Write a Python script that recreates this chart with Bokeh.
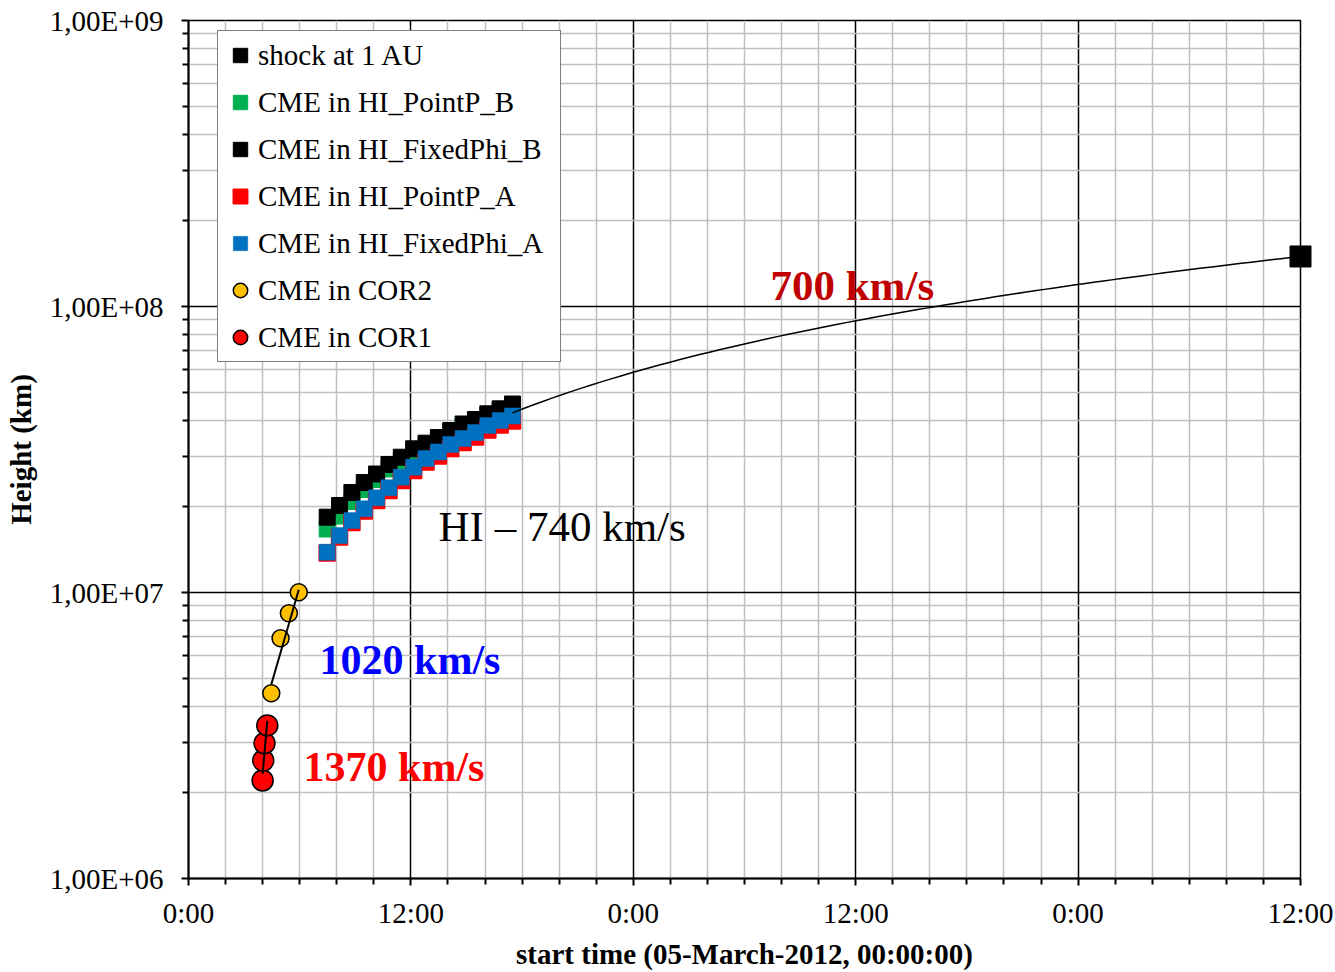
from bokeh.plotting import figure
from bokeh.models import Range1d, FixedTicker, Legend, LegendItem
from bokeh.embed import file_html
from bokeh.resources import INLINE
from bokeh.core.properties import value

FONT = "Liberation Serif"
KM_PER_H = 3600.0  # km/s -> km/h


def hours(hhmm):
    """'HH:MM' (hours may exceed 24) -> hours after 05-March-2012 00:00."""
    h, m = hhmm.split(":")
    return int(h) + int(m) / 60.0


# ---- measurements (time after 05-March-2012 00:00, height in km) ----
shock_time = ["60:00"]
shock_km = [1.496e8]

hi_time = ["07:29", "08:09", "08:49", "09:29", "10:09", "10:49", "11:29", "12:09",
           "12:49", "13:29", "14:09", "14:49", "15:29", "16:09", "16:49", "17:29"]
hi_pointp_b_km = [1.667e7, 1.851e7, 2.081e7, 2.292e7, 2.484e7, 2.703e7, 2.883e7, 3.099e7,
                  3.252e7, 3.400e7, 3.611e7, 3.805e7, 3.946e7, 4.141e7, 4.311e7, 4.488e7]
hi_fixedphi_b_km = [1.834e7, 2.015e7, 2.237e7, 2.424e7, 2.596e7, 2.803e7, 2.972e7, 3.180e7,
                    3.327e7, 3.483e7, 3.684e7, 3.883e7, 4.026e7, 4.215e7, 4.388e7, 4.561e7]
hi_pointp_a_km = [1.374e7, 1.564e7, 1.757e7, 1.928e7, 2.098e7, 2.273e7, 2.464e7, 2.671e7,
                  2.860e7, 3.002e7, 3.188e7, 3.346e7, 3.497e7, 3.700e7, 3.852e7, 3.978e7]
hi_fixedphi_a_km = [1.383e7, 1.582e7, 1.785e7, 1.962e7, 2.143e7, 2.324e7, 2.531e7, 2.743e7,
                    2.941e7, 3.099e7, 3.293e7, 3.455e7, 3.625e7, 3.836e7, 3.994e7, 4.141e7]

cor2_time = ["04:28", "04:58", "05:25", "05:57"]
cor2_km = [4.445e6, 6.92e6, 8.465e6, 1.002e7]

cor1_time = ["04:00", "04:02", "04:06", "04:15"]
cor1_km = [2.202e6, 2.585e6, 2.972e6, 3.43e6]

# constant-speed fits (km/s)
cor1_speed = 1370
cor2_speed = 1020
hi_speed = 740
ip_speed = 700

x_major = [0, 12, 24, 36, 48, 60]
x_labels = ["0:00", "12:00", "0:00", "12:00", "0:00", "12:00"]
y_major = [1e6, 1e7, 1e8, 1e9]
y_labels = ["1,00E+06", "1,00E+07", "1,00E+08", "1,00E+09"]

# ---- derived values ----
t_shock = [hours(s) for s in shock_time]
t_hi = [hours(s) for s in hi_time]
t_cor2 = [hours(s) for s in cor2_time]
t_cor1 = [hours(s) for s in cor1_time]


def speed_fit(ts, hs, speed):
    """Straight line of the given speed through the centroid of the points."""
    tm = sum(ts) / len(ts)
    hm = sum(hs) / len(hs)
    tt = [min(ts), max(ts)]
    return tt, [hm + speed * KM_PER_H * (t - tm) for t in tt]


cor1_fit_t, cor1_fit_h = speed_fit(t_cor1, cor1_km, cor1_speed)
cor2_fit_t, cor2_fit_h = speed_fit(t_cor2, cor2_km, cor2_speed)

# 700 km/s propagation ending at the 1 AU arrival
n_seg = 80
t0, t1 = t_hi[-1], t_shock[0]
ip_t = [t0 + (t1 - t0) * i / n_seg for i in range(n_seg + 1)]
ip_h = [shock_km[0] - ip_speed * KM_PER_H * (t1 - t) for t in ip_t]

# ---- figure ----
p = figure(width=1335, height=972, output_backend="svg", toolbar_location=None,
           y_axis_type="log", x_range=Range1d(0, 60), y_range=Range1d(1e6, 1e9),
           min_border_left=188, min_border_right=35, min_border_top=20,
           min_border_bottom=94)
p.outline_line_color = "black"
p.outline_line_width = 1.5
p.background_fill_color = "white"
p.border_fill_color = "white"

x_minor = [h for h in range(2, 60, 2) if h % 12 != 0]
y_minor = [m * 10 ** e for e in range(6, 9) for m in range(2, 10)]
xt = FixedTicker(ticks=x_major, minor_ticks=x_minor)
yt = FixedTicker(ticks=y_major, minor_ticks=y_minor)
p.xaxis.ticker = xt
p.yaxis.ticker = yt
p.xgrid.ticker = xt
p.ygrid.ticker = yt
p.xaxis.major_label_overrides = dict(zip(x_major, x_labels))
p.yaxis.major_label_overrides = dict(zip(y_major, y_labels))

for g in (p.xgrid[0], p.ygrid[0]):
    g.grid_line_color = "black"
    g.grid_line_width = 1.5
    g.minor_grid_line_color = "#bfbfbf"
    g.minor_grid_line_width = 1.5

for ax in (p.xaxis[0], p.yaxis[0]):
    ax.axis_line_color = "black"
    ax.axis_line_width = 2
    ax.major_tick_line_color = "black"
    ax.major_tick_line_width = 2
    ax.minor_tick_line_color = "black"
    ax.minor_tick_line_width = 2
    ax.major_tick_in = 0
    ax.major_tick_out = 7
    ax.minor_tick_in = 0
    ax.minor_tick_out = 6
    ax.major_label_text_font = FONT
    ax.major_label_text_font_size = "29px"
    ax.major_label_text_color = "black"
    ax.axis_label_text_font = FONT
    ax.axis_label_text_font_size = "29px"
    ax.axis_label_text_font_style = "bold"
    ax.axis_label_text_color = "black"

p.xaxis.axis_label = "start time (05-March-2012, 00:00:00)"
p.yaxis.axis_label = "Height (km)"
p.xaxis.major_label_standoff = 11
p.xaxis.axis_label_standoff = 6
p.yaxis.major_label_standoff = 18
p.yaxis.axis_label_standoff = 10

# ---- data markers ----
r_shock = p.scatter(t_shock, shock_km, marker="square", size=21,
                    fill_color="black", line_color="black", line_width=1,
                    level="overlay")
r_pb = p.scatter(t_hi, hi_pointp_b_km, marker="square", size=16,
                 fill_color="#00b050", line_color="#00b050", line_width=1)
r_fb = p.scatter(t_hi, hi_fixedphi_b_km, marker="square", size=16,
                 fill_color="black", line_color="black", line_width=1)
r_pa = p.scatter(t_hi, hi_pointp_a_km, marker="square", size=16,
                 fill_color="#ff0000", line_color="#ff0000", line_width=1.5)
r_fa = p.scatter(t_hi, hi_fixedphi_a_km, marker="square", size=16,
                 fill_color="#0070c0", line_color="#0070c0", line_width=0.5)
r_c2 = p.scatter(t_cor2, cor2_km, marker="circle", size=17,
                 fill_color="#ffc000", line_color="black", line_width=1.5)
r_c1 = p.scatter(t_cor1, cor1_km, marker="circle", size=21,
                 fill_color="#ff0000", line_color="black", line_width=1.5)

# ---- speed fits ----
p.line(cor1_fit_t, cor1_fit_h, line_color="black", line_width=2)
p.line(cor2_fit_t, cor2_fit_h, line_color="black", line_width=2)
p.line(ip_t, ip_h, line_color="black", line_width=1.5)

# ---- speed annotations ----
p.text(x=[31.4], y=[1.18e8], text=[f"{ip_speed} km/s"], text_font=value(FONT),
       text_font_size=value("43px"), text_font_style="bold", text_color="#c00000",
       text_baseline="alphabetic", text_align="left")
p.text(x=[13.49], y=[1.70e7], text=[f"HI \u2013 {hi_speed} km/s"], text_font=value(FONT),
       text_font_size=value("43px"), text_font_style="normal", text_color="black",
       text_baseline="alphabetic", text_align="left")
p.text(x=[7.07], y=[5.79e6], text=[f"{cor2_speed} km/s"], text_font=value(FONT),
       text_font_size=value("42px"), text_font_style="bold", text_color="#0000ff",
       text_baseline="alphabetic", text_align="left")
p.text(x=[6.21], y=[2.45e6], text=[f"{cor1_speed} km/s"], text_font=value(FONT),
       text_font_size=value("42px"), text_font_style="bold", text_color="#ff0000",
       text_baseline="alphabetic", text_align="left")

# ---- legend ----
legend = Legend(items=[
    LegendItem(label="shock at 1 AU", renderers=[r_shock]),
    LegendItem(label="CME in HI_PointP_B", renderers=[r_pb]),
    LegendItem(label="CME in HI_FixedPhi_B", renderers=[r_fb]),
    LegendItem(label="CME in HI_PointP_A", renderers=[r_pa]),
    LegendItem(label="CME in HI_FixedPhi_A", renderers=[r_fa]),
    LegendItem(label="CME in COR2", renderers=[r_c2]),
    LegendItem(label="CME in COR1", renderers=[r_c1]),
], location=(29, 516))
legend.label_text_font = FONT
legend.label_text_font_size = "29px"
legend.label_text_color = "black"
legend.glyph_width = 36
legend.glyph_height = 40
legend.label_height = 40
legend.label_width = 298
legend.label_standoff = 0
legend.spacing = 7
legend.padding = 4
legend.margin = 0
legend.border_line_color = "black"
legend.border_line_width = 1.5
legend.background_fill_color = "white"
legend.background_fill_alpha = 1.0
p.add_layout(legend, "center")

open("out.html", "w").write(file_html(p, INLINE))
